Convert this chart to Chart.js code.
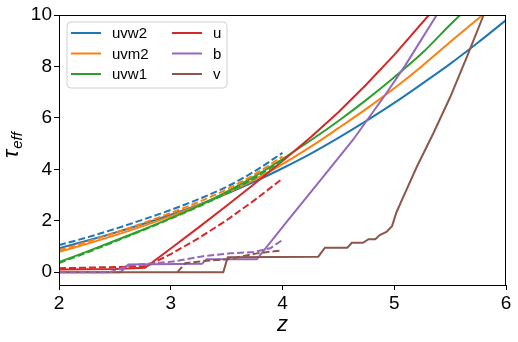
<!DOCTYPE html>
<html>
<head>
<meta charset="utf-8">
<script src="https://cdn.jsdelivr.net/npm/chart.js@4.4.0/dist/chart.umd.min.js"></script>
<style>
  body { margin: 0; background: #fff; }
  canvas { display: block; }
</style>
</head>
<body>
<canvas id="tau_chart" width="518" height="342"></canvas>
<script>
// values
var xTicks = [2, 3, 4, 5, 6];
var yTicks = [0, 2, 4, 6, 8, 10];

var bands = ["uvw2", "uvm2", "uvw1", "u", "b", "v"];
var colours = ["#1f77b4", "#ff7f0e", "#2ca02c", "#d62728", "#9467bd", "#8c564b"];

// solid lines
var zUvw2 = [2.0, 2.25, 2.5, 2.75, 3.0, 3.25, 3.5, 3.75, 4.0, 4.25, 4.5, 4.75, 5.0, 5.25, 5.5, 5.75, 6.0];
var tauUvw2 = [0.93, 1.22, 1.53, 1.87, 2.23, 2.62, 3.05, 3.52, 4.04, 4.6, 5.22, 5.88, 6.58, 7.33, 8.1, 8.93, 9.8];

var zUvm2 = [2.0, 2.25, 2.5, 2.75, 3.0, 3.25, 3.5, 3.75, 4.0, 4.25, 4.5, 4.75, 5.0, 5.25, 5.5, 5.79];
var tauUvm2 = [0.79, 1.1, 1.43, 1.79, 2.18, 2.6, 3.07, 3.6, 4.2, 4.87, 5.6, 6.35, 7.15, 8.02, 8.95, 10];

var zUvw1 = [2.0, 2.25, 2.5, 2.75, 3.0, 3.25, 3.5, 3.75, 4.0, 4.25, 4.5, 4.75, 5.0, 5.25, 5.5, 5.59];
var tauUvw1 = [0.39, 0.8, 1.22, 1.65, 2.1, 2.58, 3.12, 3.72, 4.4, 5.12, 5.88, 6.7, 7.58, 8.52, 9.62, 10];

var zU = [2.0, 2.5, 2.77, 3.0, 3.25, 3.5, 3.75, 4.0, 4.25, 4.5, 4.75, 5.0, 5.31];
var tauU = [0.1, 0.12, 0.17, 0.92, 1.74, 2.58, 3.44, 4.32, 5.24, 6.22, 7.3, 8.45, 10];

var zB = [2.0, 2.55, 2.62, 3.28, 3.32, 3.77, 4.05, 4.34, 4.63, 4.92, 5.1, 5.38];
var tauB = [0, 0, 0.3, 0.33, 0.5, 0.5, 2.02, 3.58, 5.14, 6.9, 8.05, 10];

var zV = [2.0, 3.47, 3.51, 4.32, 4.38, 4.58, 4.62, 4.72, 4.77, 4.83, 4.87, 4.93, 4.98, 5.02, 5.08, 5.2, 5.35, 5.5, 5.65, 5.8];
var tauV = [0, 0, 0.58, 0.6, 0.95, 0.95, 1.14, 1.14, 1.28, 1.28, 1.44, 1.56, 1.79, 2.33, 2.92, 4.08, 5.4, 6.8, 8.37, 10];

// dashed lines
var zDash = [2.0, 2.25, 2.5, 2.75, 3.0, 3.25, 3.5, 3.75, 4.0];
var tauUvw2Dash = [1.05, 1.35, 1.68, 2.04, 2.42, 2.84, 3.32, 3.92, 4.64];
var tauUvm2Dash = [0.85, 1.18, 1.53, 1.9, 2.3, 2.73, 3.22, 3.8, 4.5];
var tauUvw1Dash = [0.35, 0.76, 1.19, 1.63, 2.08, 2.55, 3.07, 3.66, 4.35];

var zUDash = [2.0, 2.5, 2.78, 3.0, 3.25, 3.5, 3.75, 4.0];
var tauUDash = [0.15, 0.2, 0.23, 0.7, 1.32, 2.02, 2.8, 3.64];

var zBDash = [2.0, 2.45, 2.52, 2.64, 2.86, 3.0, 3.29, 3.53, 3.74, 3.89, 4.0];
var tauBDash = [0, 0, 0.08, 0.27, 0.35, 0.4, 0.62, 0.73, 0.78, 0.93, 1.25];

var zVDash = [3.06, 3.13, 3.29, 3.51, 3.77, 4.0];
var tauVDash = [0, 0.35, 0.43, 0.5, 0.73, 0.85];

function pts(zs, ts) {
  return zs.map(function(z, i) { return {x: z, y: ts[i]}; });
}

// [z, tau, colour index, dashed, smooth]
var lines = [
  [zUvw2, tauUvw2, 0, false, true],
  [zUvm2, tauUvm2, 1, false, true],
  [zUvw1, tauUvw1, 2, false, true],
  [zU, tauU, 3, false, false],
  [zB, tauB, 4, false, false],
  [zV, tauV, 5, false, false],
  [zDash, tauUvw2Dash, 0, true, true],
  [zDash, tauUvm2Dash, 1, true, true],
  [zDash, tauUvw1Dash, 2, true, true],
  [zUDash, tauUDash, 3, true, false],
  [zBDash, tauBDash, 4, true, false],
  [zVDash, tauVDash, 5, true, false]
];

var datasets = lines.map(function(l, i) {
  return {
    data: pts(l[0], l[1]),
    borderColor: colours[l[2]],
    borderWidth: 2,
    borderDash: l[3] ? [7, 3] : [],
    pointRadius: 0,
    fill: false,
    cubicInterpolationMode: l[4] ? 'monotone' : 'default',
    tension: 0,
    order: lines.length - i
  };
});

var font = "'Liberation Sans', Arial, sans-serif";

var extras = {
  id: 'extras',
  beforeDraw: function(chart) {
    var ctx = chart.ctx;
    ctx.save();
    ctx.fillStyle = '#fff';
    ctx.fillRect(0, 0, chart.width, chart.height);
    ctx.restore();
  },
  afterDraw: function(chart) {
    var ctx = chart.ctx;
    var a = chart.chartArea;
    ctx.save();
    // frame
    ctx.strokeStyle = '#000';
    ctx.lineWidth = 1;
    ctx.strokeRect(a.left + 0.5, a.top + 0.5, a.right - a.left - 1, a.bottom - a.top);

    // legend
    var bx = 67, by = 22, bw = 160, bh = 66, r = 4;
    ctx.beginPath();
    ctx.moveTo(bx + r, by);
    ctx.arcTo(bx + bw, by, bx + bw, by + bh, r);
    ctx.arcTo(bx + bw, by + bh, bx, by + bh, r);
    ctx.arcTo(bx, by + bh, bx, by, r);
    ctx.arcTo(bx, by, bx + bw, by, r);
    ctx.closePath();
    ctx.fillStyle = 'rgba(255,255,255,0.8)';
    ctx.fill();
    ctx.strokeStyle = '#d0d0d0';
    ctx.stroke();
    ctx.font = '15px ' + font;
    ctx.textBaseline = 'middle';
    ctx.fillStyle = '#000';
    bands.forEach(function(name, i) {
      var col = Math.floor(i / 3), row = i % 3;
      var lx = col == 0 ? 71 : 172;
      var ly = 33 + row * 20.5;
      ctx.strokeStyle = colours[i];
      ctx.lineWidth = 2;
      ctx.beginPath();
      ctx.moveTo(lx, ly);
      ctx.lineTo(lx + 30, ly);
      ctx.stroke();
      ctx.fillText(name, lx + 41, ly + 1);
    });

    // axis titles
    ctx.fillStyle = '#000';
    ctx.textBaseline = 'alphabetic';
    ctx.font = 'italic 22px ' + font;
    ctx.textAlign = 'center';
    ctx.fillText('z', (a.left + a.right) / 2, 331);

    ctx.translate(18, 158);
    ctx.rotate(-Math.PI / 2);
    ctx.textAlign = 'left';
    ctx.font = 'italic 22px ' + font;
    ctx.fillText('\u03c4', 0, 0);
    var w = ctx.measureText('\u03c4').width;
    ctx.font = 'italic 15px ' + font;
    ctx.fillText('eff', w + 1, 4);
    ctx.restore();
  }
};

var ctx = document.getElementById("tau_chart");
var tau_chart = new Chart(ctx, {
  type: 'line',
  data: { datasets: datasets },
  plugins: [extras],
  options: {
    responsive: false,
    animation: false,
    devicePixelRatio: 1,
    layout: { padding: { left: 0, top: 15, right: 12, bottom: 0 } },
    plugins: { legend: { display: false }, tooltip: { enabled: false } },
    scales: {
      x: {
        type: 'linear',
        min: 2,
        max: 6,
        afterBuildTicks: function(scale) {
          scale.ticks = xTicks.map(function(v) { return {value: v}; });
        },
        afterFit: function(scale) { scale.height = 57; },
        grid: { drawOnChartArea: false, color: '#000', tickLength: 5, tickWidth: 1 },
        border: { color: '#000', width: 1 },
        ticks: { color: '#000', font: { family: font, size: 19 }, padding: 2, maxRotation: 0 }
      },
      y: {
        type: 'linear',
        min: -0.5,
        max: 10,
        afterBuildTicks: function(scale) {
          scale.ticks = yTicks.map(function(v) { return {value: v}; });
        },
        afterFit: function(scale) { scale.width = 59; },
        grid: { drawOnChartArea: false, color: '#000', tickLength: 5, tickWidth: 1 },
        border: { color: '#000', width: 1 },
        ticks: { color: '#000', font: { family: font, size: 19 }, padding: 2 }
      }
    }
  }
});
</script>
</body>
</html>
